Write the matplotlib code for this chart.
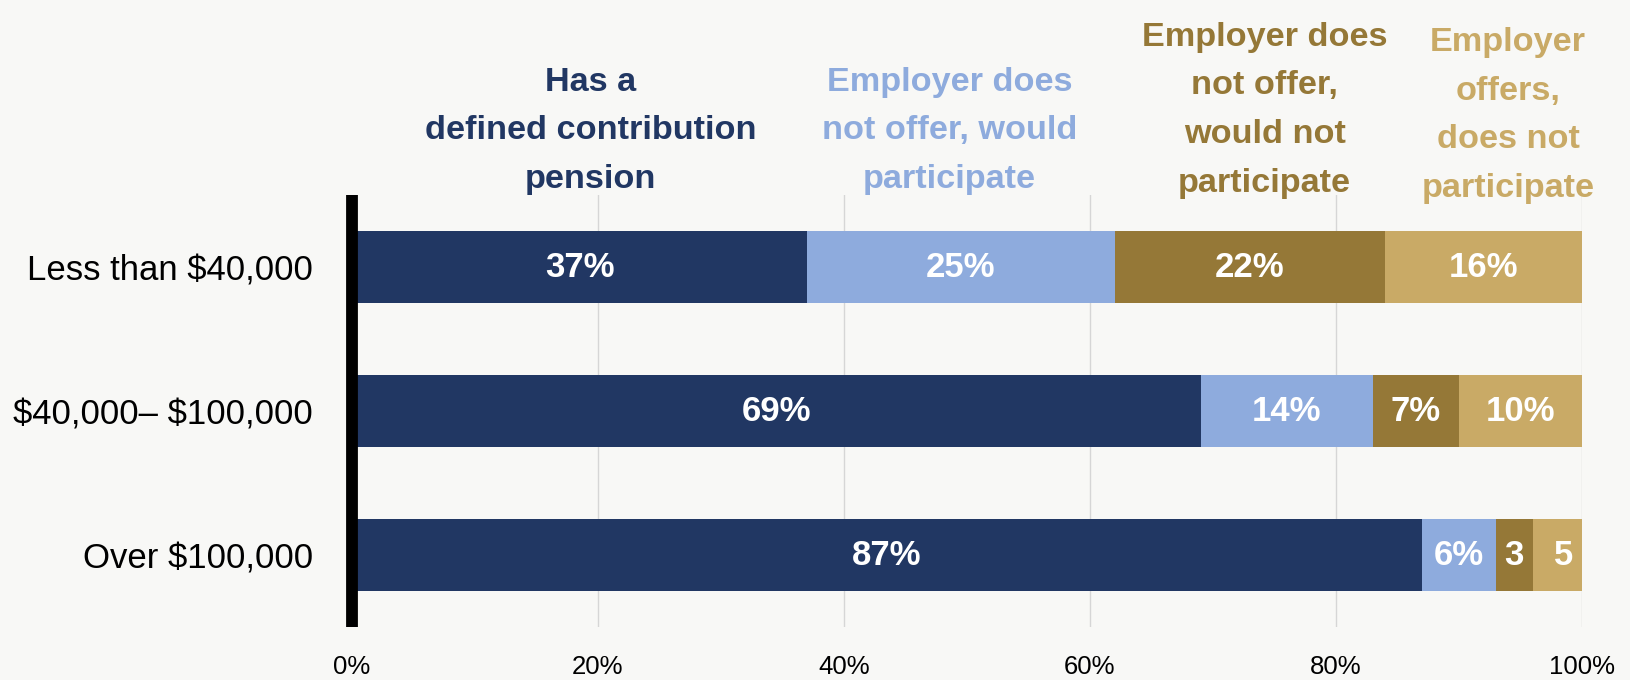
import matplotlib.pyplot as plt

plt.rcParams['text.parse_math'] = False
plt.rcParams['font.family'] = ['Liberation Sans Narrow', 'Liberation Sans', 'DejaVu Sans']

# Income groups (top to bottom) and the share in each response
incomes = ["Less than $40,000", "$40,000\u2013 $100,000", "Over $100,000"]
has_dc = [37, 69, 87]
no_offer_would = [25, 14, 6]
no_offer_would_not = [22, 7, 3]
offers_no_part = [16, 10, 5]

bar_labels = [
    ["37%", "69%", "87%"],
    ["25%", "14%", "6%"],
    ["22%", "7%", "3"],
    ["16%", "10%", "5"],
]

series_names = [
    "Has a\ndefined contribution\npension",
    "Employer does\nnot offer, would\nparticipate",
    "Employer does\nnot offer,\nwould not\nparticipate",
    "Employer\noffers,\ndoes not\nparticipate",
]
colors = ["#213763", "#8eabdd", "#957837", "#c9aa66"]

# where each column heading sits (x in data units, y in axes fraction)
head_x = [19.4, 48.6, 74.2, 94.0]
head_y = [1.016, 1.016, 1.007, 0.995]

bg = "#f8f8f6"
fig = plt.figure(figsize=(16.31, 6.8), dpi=100, facecolor=bg)
ax = fig.add_axes([0.2158, 0.0779, 0.7541, 0.6353])
ax.set_facecolor(bg)

series = [has_dc, no_offer_would, no_offer_would_not, offers_no_part]
ypos = list(range(len(incomes)))
left = [0] * len(incomes)
for vals, col, labs in zip(series, colors, bar_labels):
    ax.barh(ypos, vals, left=left, height=0.5, color=col, zorder=2)
    for y, v, l, lab in zip(ypos, vals, left, labs):
        ax.text(l + v / 2, y, lab, ha="center", va="center", color="white",
                fontsize=25, fontweight="bold", zorder=3)
    left = [a + b for a, b in zip(left, vals)]

for name, col, x, y in zip(series_names, colors, head_x, head_y):
    ax.text(x, y, name, transform=ax.get_xaxis_transform(), ha="center",
            va="baseline", multialignment="center", color=col, fontsize=24.7,
            fontweight="bold", linespacing=1.74)

ax.set_xlim(0, 100)
ax.set_ylim(2.5, -0.5)
ax.set_yticks(ypos)
ax.set_yticklabels(incomes, fontsize=25)
ax.set_xticks([0, 20, 40, 60, 80, 100])
ax.set_xticklabels(["0%", "20%", "40%", "60%", "80%", "100%"], fontsize=18.5)
ax.tick_params(axis="x", length=0, pad=20)
ax.tick_params(axis="y", length=0, pad=28)

ax.grid(axis="x", color="#d6d6d6", linewidth=1)
ax.set_axisbelow(True)
for s in ["top", "right", "bottom"]:
    ax.spines[s].set_visible(False)
ax.spines["left"].set_linewidth(8.5)
ax.spines["left"].set_color("black")
ax.spines["left"].set_capstyle("butt")
ax.spines["left"].set_zorder(4)

fig.savefig("out.png", dpi=100, facecolor=bg)
